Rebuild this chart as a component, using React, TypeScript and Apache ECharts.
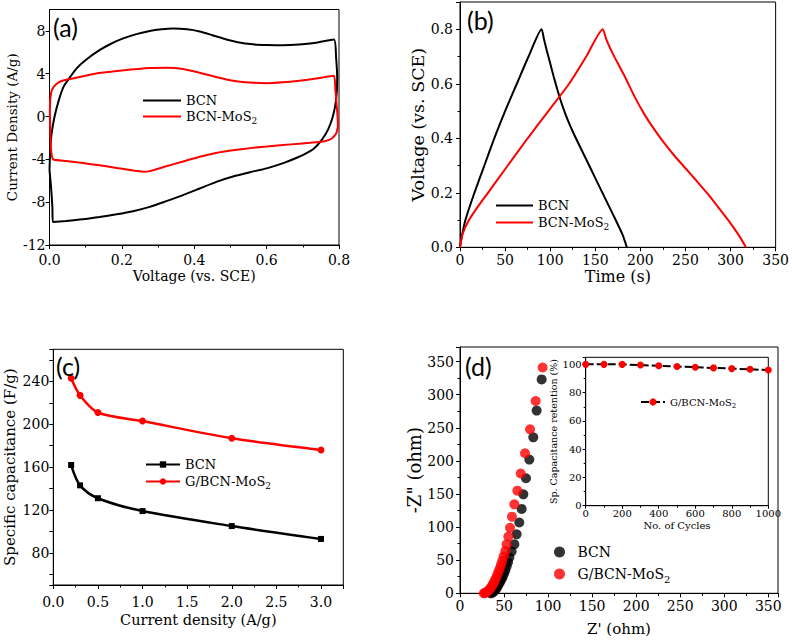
import React, { useEffect, useRef } from "react";
import * as echarts from "echarts";

// ---------- data ----------
// (a) cyclic voltammetry loops: [voltage (V), current density (A/g)]
const cvBCN: number[][] = [
  [0.0, -5.0], [0.002, -3.1], [0.006, -1.56], [0.014, 0], [0.026, 1.56], [0.039, 2.8], [0.055, 3.6],
  [0.075, 4.5], [0.101, 5.3], [0.138, 6.2], [0.17, 6.8], [0.2, 7.25], [0.24, 7.7], [0.277, 8.0],
  [0.31, 8.15], [0.341, 8.22], [0.38, 8.15], [0.415, 7.95], [0.45, 7.6], [0.489, 7.2], [0.52, 6.95],
  [0.562, 6.75], [0.6, 6.68], [0.645, 6.65], [0.69, 6.72], [0.737, 6.9], [0.786, 7.2], [0.792, 5.5],
  [0.795, 3.5], [0.792, 1.56], [0.783, 0], [0.77, -1.2], [0.752, -2.2], [0.73, -3.0], [0.705, -3.5],
  [0.68, -3.9], [0.646, -4.35], [0.6, -4.84], [0.554, -5.2], [0.507, -5.6], [0.461, -6.1],
  [0.415, -6.72], [0.369, -7.34], [0.323, -7.9], [0.277, -8.44], [0.231, -8.84], [0.185, -9.13],
  [0.138, -9.38], [0.092, -9.6], [0.046, -9.75], [0.009, -9.84], [0.008, -8.5], [0.004, -6.5],
  [0.0, -5.0],
];
const cvMoS2: number[][] = [
  [0.002, 1.56], [0.005, 2.3], [0.012, 2.8], [0.025, 3.2], [0.046, 3.44], [0.09, 3.75], [0.138, 4.06],
  [0.2, 4.3], [0.277, 4.53], [0.323, 4.56], [0.369, 4.45], [0.415, 4.1], [0.46, 3.7], [0.507, 3.35],
  [0.554, 3.18], [0.6, 3.12], [0.645, 3.2], [0.69, 3.35], [0.737, 3.55], [0.786, 3.8], [0.79, 2.5],
  [0.795, 0.5], [0.797, -0.9], [0.792, -1.6], [0.78, -2.05], [0.76, -2.3], [0.72, -2.45], [0.69, -2.55],
  [0.645, -2.65], [0.6, -2.8], [0.554, -2.95], [0.507, -3.15], [0.46, -3.4], [0.415, -3.75],
  [0.369, -4.2], [0.323, -4.65], [0.277, -5.1], [0.26, -5.15], [0.231, -5.05], [0.185, -4.8],
  [0.138, -4.55], [0.092, -4.35], [0.046, -4.15], [0.01, -4.0], [0.004, -3.0], [0.002, -1.0],
  [0.001, 0.5], [0.002, 1.56],
];

// (b) galvanostatic charge/discharge: [time (s), voltage (V)]
const gcdBCN: number[][] = [
  [0, 0], [2, 0.04], [6, 0.1], [16, 0.2], [27, 0.3], [38, 0.4], [50, 0.5], [63, 0.6], [76, 0.7],
  [90.5, 0.8], [93, 0.765], [96, 0.725], [100, 0.675], [104, 0.625], [108, 0.578], [112, 0.535],
  [116, 0.497], [120, 0.463], [125, 0.425], [130, 0.39], [140, 0.322], [150, 0.254], [160, 0.186],
  [170, 0.118], [180, 0.048], [185, 0],
];
const gcdMoS2: number[][] = [
  [0, 0], [3, 0.05], [10, 0.1], [20, 0.15], [31, 0.2], [53, 0.3], [75, 0.4], [98, 0.5], [121, 0.6],
  [140, 0.7], [158.3, 0.8], [162, 0.765], [168, 0.72], [175, 0.675], [183, 0.625], [194, 0.55],
  [205, 0.485], [216, 0.43], [227, 0.38], [238, 0.335], [250, 0.29], [262, 0.245], [275, 0.195],
  [288, 0.14], [300, 0.088], [310, 0.04], [317, 0],
];

// (c) specific capacitance vs current density
const currentDensity: number[] = [0.2, 0.3, 0.5, 1.0, 2.0, 3.0];
const capBCN: number[] = [162, 143, 131, 119, 105, 93];
const capMoS2: number[] = [243, 227, 211, 203, 187, 176];

// (d) Nyquist plot: [Z' (ohm), -Z'' (ohm)]
const eisBCN: number[][] = [
  [35, 0], [36.5, 1], [38, 2.5], [39.5, 4.5], [41, 7], [42.5, 10], [44, 13.5], [45.5, 17], [47, 21],
  [48.5, 25], [50, 30], [51.5, 35], [53, 41], [54.5, 47], [56, 54], [58.6, 63], [61.7, 74], [64.3, 89],
  [67.3, 107], [70, 127.4], [71.9, 149.5], [74.9, 173.7], [78.7, 202], [83.2, 235.6], [87, 276],
  [92.7, 323],
];
const eisMoS2: number[][] = [
  [27, 0], [28.5, 0.5], [30, 1.5], [31.5, 3], [33, 5], [34.5, 7.5], [36, 10.5], [37.5, 14], [39, 18],
  [40.5, 22], [42, 27], [43.5, 32], [45, 37], [46.5, 43], [48, 49], [49.5, 56], [51.5, 64], [53, 74],
  [54.9, 85.6], [56.8, 99], [59, 115.8], [61.7, 134.4], [65.1, 155], [68.9, 181], [73.8, 211.5],
  [79.5, 247.7], [85.9, 290.5], [93.8, 341],
];

// inset: cycling stability
const cycles: number[] = [0, 100, 200, 300, 400, 500, 600, 700, 800, 900, 1000];
const retention: number[] = [100, 100, 100, 99.5, 99, 98.5, 98, 97.5, 97, 96.5, 96];

const panelLabels: string[] = ["(a)", "(b)", "(c)", "(d)"];

// ---------- styling ----------
const FONT = '"DejaVu Serif", "Liberation Serif", serif';
const RED = "#ff0000";
const BLACK = "#000000";

const legendText: Record<string, string> = {
  BCN_a: "BCN",
  MoS_a: "BCN-MoS{s|2}",
  BCN_b: "BCN",
  MoS_b: "BCN-MoS{s|2}",
  BCN_c: "BCN",
  MoS_c: "G/BCN-MoS{s|2}",
  BCN_d: "BCN",
  MoS_d: "G/BCN-MoS{s|2}",
  ret: "G/BCN-MoS{s|2}",
};

function axis(o: any) {
  const fs = o.fontSize ?? 14;
  return {
    type: "value",
    gridIndex: o.grid,
    min: o.min,
    max: o.max,
    interval: o.interval,
    minInterval: o.minInterval,
    maxInterval: o.maxInterval,
    splitNumber: o.splitNumber,
    name: o.name,
    nameLocation: "middle",
    nameGap: o.nameGap,
    nameTextStyle: { fontFamily: FONT, fontSize: o.nameSize ?? 15, color: BLACK },
    axisLine: { show: true, onZero: false, lineStyle: { color: BLACK, width: 1 } },
    axisTick: { show: true, inside: false, length: o.tickLen ?? 4, lineStyle: { color: BLACK, width: 1 } },
    minorTick: {
      show: !!o.minor,
      splitNumber: 2,
      length: o.minorLen ?? 2.5,
      lineStyle: { color: BLACK, width: 1 },
    },
    splitLine: { show: false },
    axisLabel: {
      fontFamily: FONT,
      fontSize: fs,
      color: BLACK,
      margin: o.margin ?? 6,
      showMaxLabel: o.showMax ?? false,
      showMinLabel: true,
      formatter: o.formatter ?? ((v: number) => String(Math.round(v * 1000) / 1000)),
      hideOverlap: false,
    },
  };
}

function legend(o: any) {
  const l: any = {
    orient: "vertical",
    left: o.left,
    top: o.top,
    itemWidth: o.itemWidth,
    itemHeight: o.itemHeight,
    itemGap: o.itemGap,
    selectedMode: false,
    data: o.data,
    formatter: (n: string) => legendText[n] ?? n,
    textStyle: {
      fontFamily: FONT,
      fontSize: o.fontSize,
      color: BLACK,
      padding: o.textPad ?? 0,
      rich: {
        s: {
          fontFamily: FONT,
          fontSize: Math.round(o.fontSize * 0.7),
          color: BLACK,
          padding: [Math.round(o.fontSize * 0.7), 0, 0, 0],
        },
      },
    },
  };
  if (o.hideSymbol) l.itemStyle = { color: "rgba(0,0,0,0)", borderWidth: 0, opacity: 0 };
  return l;
}

export default function App() {
  const ref = useRef<HTMLDivElement>(null);
  useEffect(() => {
    if (!ref.current) return;
    const chart = echarts.init(ref.current, undefined, { renderer: "svg" });
    const grids = [
      { left: 49.5, top: 9.5, width: 289.5, height: 235.5 },
      { left: 460, top: 2, width: 318, height: 245.3 },
      { left: 53.3, top: 349.3, width: 290, height: 235.7 },
      { left: 460, top: 347, width: 318, height: 246.3 },
      { left: 585.7, top: 357.3, width: 182.6, height: 148.4, backgroundColor: "#ffffff" },
    ].map((g) => ({
      ...g,
      show: true,
      borderColor: BLACK,
      borderWidth: 1,
      backgroundColor: (g as any).backgroundColor ?? "transparent",
      containLabel: false,
    }));

    const fixed1 = (v: number) => v.toFixed(1);

    const option: any = {
      animation: false,
      backgroundColor: "#ffffff",
      grid: grids,
      xAxis: [
        axis({ grid: 0, min: 0, max: 0.8, interval: 0.2, minor: true, formatter: fixed1, showMax: true,
          name: "Voltage (vs. SCE)", nameGap: 24, margin: 8, nameSize: 14 }),
        axis({ grid: 1, min: 0, max: 350, interval: 50, minor: true, showMax: true,
          name: "Time (s)", nameGap: 21, margin: 6, nameSize: 16 }),
        axis({ grid: 2, min: 0, max: 3.25, interval: 0.5, minor: true, formatter: fixed1,
          name: "Current density (A/g)", nameGap: 27, margin: 10, nameSize: 14.5 }),
        axis({ grid: 3, min: 0, max: 361, interval: 50, minor: true,
          name: "Z' (ohm)", nameGap: 28, margin: 6, nameSize: 15 }),
        axis({ grid: 4, min: 0, max: 1000, interval: 200, minor: true, showMax: true, fontSize: 10,
          nameSize: 10, tickLen: 3, minorLen: 2, name: "No. of Cycles", nameGap: 15, margin: 3 }),
      ],
      yAxis: [
        axis({ grid: 0, min: -12, max: 10, interval: 4, name: "Current Density (A/g)", nameGap: 24,
          margin: 4, nameSize: 13.5 }),
        axis({ grid: 1, min: 0, max: 0.9, interval: 0.2, minor: true, formatter: fixed1,
          name: "Voltage (vs. SCE)", nameGap: 32, margin: 7, nameSize: 17.5 }),
        axis({ grid: 2, min: 50, max: 270, minInterval: 20, maxInterval: 20, splitNumber: 11, showMax: true,
          formatter: (v: number) => (Math.round(v) % 40 === 0 ? String(Math.round(v)) : ""),
          name: "Specific capacitance (F/g)", nameGap: 36, margin: 4, nameSize: 15 }),
        axis({ grid: 3, min: 0, max: 372, interval: 50, minor: true,
          name: '-Z" (ohm)', nameGap: 37, margin: 6, nameSize: 18 }),
        axis({ grid: 4, min: 0, max: 105, interval: 20, minor: true, fontSize: 10, nameSize: 9.5,
          tickLen: 3, minorLen: 2, name: "Sp. Capacitance retention (%)", nameGap: 22, margin: 4 }),
      ],
      legend: [
        legend({ left: 137, top: 89, itemWidth: 38, itemHeight: 14, itemGap: 3, fontSize: 13, hideSymbol: true,
          data: ["BCN_a", "MoS_a"] }),
        legend({ left: 490, top: 194, itemWidth: 37, itemHeight: 14, itemGap: 4, fontSize: 13, hideSymbol: true,
          data: ["BCN_b", "MoS_b"] }),
        legend({ left: 140, top: 453, itemWidth: 34, itemHeight: 8, itemGap: 4, fontSize: 13,
          data: ["BCN_c", "MoS_c"] }),
        legend({ left: 549, top: 540, itemWidth: 14, itemHeight: 11, itemGap: 8, fontSize: 14, textPad: [0, 0, 0, 6],
          data: ["BCN_d", "MoS_d"] }),
        legend({ left: 635, top: 392, itemWidth: 24, itemHeight: 9, itemGap: 4, fontSize: 10, data: ["ret"] }),
      ],
      graphic: panelLabels.map((t, i) => ({
        type: "text",
        left: [53, 467, 56, 465][i],
        top: [14, 7, 353, 353][i],
        style: { text: t, fontFamily: "Lato, 'Open Sans', sans-serif", fontSize: 25, fill: BLACK },
        z: 100,
      })),
      series: [
        { name: "BCN_a", type: "line", xAxisIndex: 0, yAxisIndex: 0, data: cvBCN, smooth: 0.2,
          symbol: "none", lineStyle: { color: BLACK, width: 2 }, itemStyle: { color: BLACK } },
        { name: "MoS_a", type: "line", xAxisIndex: 0, yAxisIndex: 0, data: cvMoS2, smooth: 0.15,
          symbol: "none", lineStyle: { color: RED, width: 2 }, itemStyle: { color: RED } },
        { name: "BCN_b", type: "line", xAxisIndex: 1, yAxisIndex: 1, data: gcdBCN, smooth: 0.2,
          symbol: "none", lineStyle: { color: BLACK, width: 2 }, itemStyle: { color: BLACK } },
        { name: "MoS_b", type: "line", xAxisIndex: 1, yAxisIndex: 1, data: gcdMoS2, smooth: 0.2,
          symbol: "none", lineStyle: { color: RED, width: 2 }, itemStyle: { color: RED } },
        { name: "BCN_c", type: "line", xAxisIndex: 2, yAxisIndex: 2,
          data: currentDensity.map((x, i) => [x, capBCN[i]]), smooth: 0.3, symbol: "rect", symbolSize: 6,
          lineStyle: { color: BLACK, width: 2.5 }, itemStyle: { color: BLACK } },
        { name: "MoS_c", type: "line", xAxisIndex: 2, yAxisIndex: 2,
          data: currentDensity.map((x, i) => [x, capMoS2[i]]), smooth: 0.3, symbol: "circle", symbolSize: 7,
          lineStyle: { color: RED, width: 2.5 }, itemStyle: { color: RED } },
        { name: "BCN_d", type: "scatter", xAxisIndex: 3, yAxisIndex: 3, data: eisBCN, symbol: "circle",
          symbolSize: 10, itemStyle: { color: BLACK } },
        { name: "MoS_d", type: "scatter", xAxisIndex: 3, yAxisIndex: 3, data: eisMoS2, symbol: "circle",
          symbolSize: 10, itemStyle: { color: RED } },
        { name: "ret", type: "line", xAxisIndex: 4, yAxisIndex: 4, z: 5,
          data: cycles.map((x, i) => [x, retention[i]]), symbol: "circle", symbolSize: 7, showSymbol: true,
          lineStyle: { color: BLACK, width: 2, type: [8, 3] }, itemStyle: { color: RED } },
      ],
    };
    chart.setOption(option);
    return () => chart.dispose();
  }, []);
  return (
    <div
      ref={ref}
      style={{ position: "absolute", left: 0, top: 0, width: 792, height: 641, background: "#fff" }}
    />
  );
}
